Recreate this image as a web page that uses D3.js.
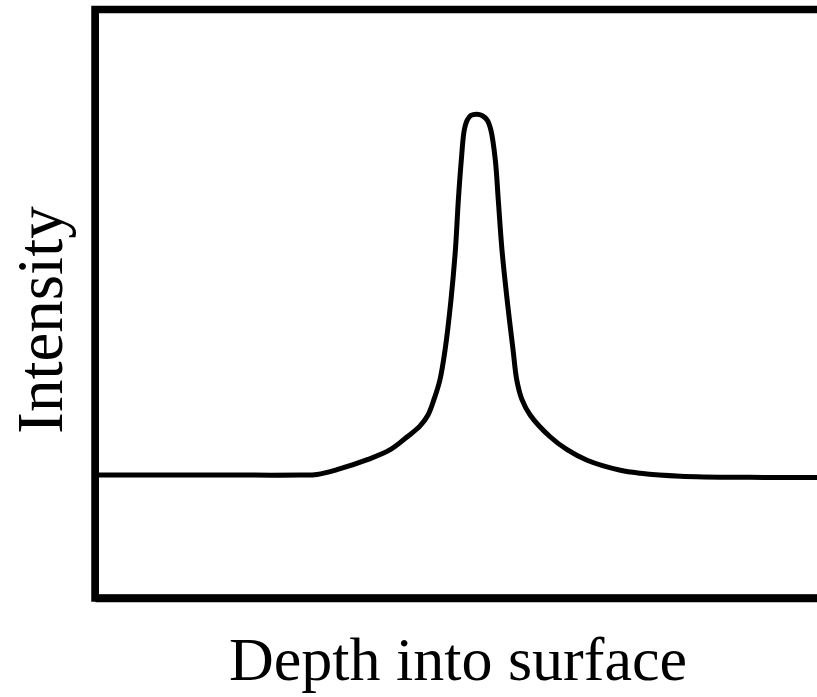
<!DOCTYPE html>
<html>
<head>
<meta charset="utf-8">
<script src="https://cdn.jsdelivr.net/npm/d3@7"></script>
<style>
  html, body { margin: 0; padding: 0; background: #fff; }
  svg { display: block; }
</style>
</head>
<body>
<svg id="chart" width="817" height="697"></svg>
<script>
// Depth (arbitrary units, 0..10) and intensity (arbitrary units, 0..10)
const depth = [0, 1.42, 2.77, 3.0, 3.27, 3.68, 3.99, 4.22, 4.39, 4.50, 4.58, 4.66, 4.73, 4.81, 4.87, 4.91, 4.95, 4.99, 5.03, 5.08, 5.16, 5.23, 5.30, 5.35, 5.41, 5.45, 5.50, 5.57, 5.65, 5.70, 5.77, 5.88, 6.15, 6.38, 6.65, 7.10, 7.37, 7.91, 8.85, 10];
const intensity = [2.09, 2.09, 2.09, 2.10, 2.18, 2.35, 2.52, 2.74, 2.92, 3.11, 3.37, 3.70, 4.21, 5.06, 5.91, 6.76, 7.44, 7.95, 8.12, 8.20, 8.22, 8.20, 8.12, 7.95, 7.44, 6.76, 5.91, 5.06, 4.21, 3.70, 3.37, 3.11, 2.74, 2.52, 2.34, 2.17, 2.12, 2.07, 2.05, 2.05];
const xLabel = "Depth into surface";
const yLabel = "Intensity";

const svg = d3.select("#chart");
const x = d3.scaleLinear().domain([0, 10]).range([95, 835]);
const y = d3.scaleLinear().domain([0, 10]).range([598, 9.5]);

// frame (top, left, bottom; right side runs off the picture)
const [x0, x1] = x.range();
const [yb, yt] = y.range();
svg.append("path")
  .attr("d", `M${x1},${yt}H${x0}V${yb}H${x1}`)
  .attr("fill", "none")
  .attr("stroke", "#000")
  .attr("stroke-width", 7.5)
  .attr("stroke-linejoin", "miter");

// axes without ticks
svg.append("g").attr("transform", `translate(0,${yb})`)
  .call(d3.axisBottom(x).ticks(0).tickSizeOuter(0))
  .call(g => g.select(".domain").attr("stroke-width", 7.5));
svg.append("g").attr("transform", `translate(${x0},0)`)
  .call(d3.axisLeft(y).ticks(0).tickSizeOuter(0))
  .call(g => g.select(".domain").attr("stroke-width", 7));

const data = depth.map((d, i) => [d, intensity[i]]);
const line = d3.line()
  .x(d => x(d[0]))
  .y(d => y(d[1]))
  .curve(d3.curveCatmullRom.alpha(0.5));

svg.append("path")
  .datum(data)
  .attr("d", line)
  .attr("fill", "none")
  .attr("stroke", "#000")
  .attr("stroke-width", 5)
  .attr("stroke-linejoin", "round");

svg.append("text")
  .attr("x", 458)
  .attr("y", 680)
  .attr("text-anchor", "middle")
  .attr("font-family", "'Liberation Serif', 'Times New Roman', serif")
  .attr("font-size", 62)
  .text(xLabel);

svg.append("text")
  .attr("transform", "translate(62,320) rotate(-90)")
  .attr("text-anchor", "middle")
  .attr("font-family", "'Liberation Serif', 'Times New Roman', serif")
  .attr("font-size", 65)
  .text(yLabel);
</script>
</body>
</html>
